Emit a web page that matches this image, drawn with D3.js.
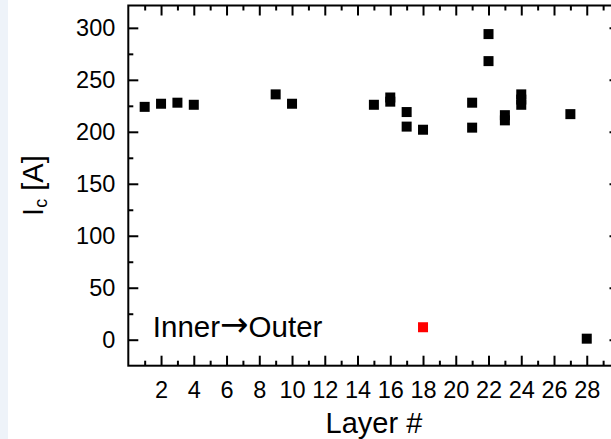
<!DOCTYPE html>
<html>
<head>
<meta charset="utf-8">
<script src="https://cdn.jsdelivr.net/npm/d3@7"></script>
<style>
  body { margin: 0; background: #fff; }
  svg { display: block; font-family: Arial, "Liberation Sans", sans-serif; }
</style>
</head>
<body>
<div id="chart"></div>
<script>
// layer number and critical current
var layers = [1, 2, 3, 4, 9, 10, 15, 16, 16, 17, 17, 18, 21, 21, 22, 22, 23, 23, 24, 24, 24, 27, 28];
var ic = [224, 227, 228, 226, 236, 227, 226, 233, 229, 219, 205, 202, 228, 204, 294, 268, 216, 211, 236, 231, 226, 217, 1];
// the highlighted point
var redLayer = [18];
var redIc = [12];

var xTicks = [2, 4, 6, 8, 10, 12, 14, 16, 18, 20, 22, 24, 26, 28];
var yTicks = [0, 50, 100, 150, 200, 250, 300];

var w = 611, h = 439;
var mLeft = 128.3, mRight = 619.5, mTop = 5.5, mBottom = 365.7;

var svg = d3.select("#chart").append("svg")
    .attr("width", w)
    .attr("height", h);

// faint strip along the left edge
svg.append("rect")
    .attr("x", 0).attr("y", 0)
    .attr("width", 8).attr("height", h)
    .attr("fill", "#eef3f9");

var x = d3.scaleLinear().domain([0, 30]).range([mLeft, mRight]);
var y = d3.scaleLinear().domain([-25, 321.5]).range([mBottom, mTop]);

var xMinor = d3.range(1, 30, 2);
var yMinor = d3.range(25, 321, 50);

function styleAxis(g) {
    g.select(".domain").remove();
    g.selectAll(".tick line").attr("stroke", "#000").attr("stroke-width", 2);
    g.selectAll(".tick text").attr("fill", "#000").attr("font-size", "23.5px")
        .attr("font-family", "Arial, 'Liberation Sans', sans-serif");
}

// bottom
svg.append("g").attr("transform", "translate(0," + mBottom + ")")
    .call(d3.axisBottom(x).tickValues(xTicks).tickSize(-10).tickPadding(16).tickFormat(d3.format("d")))
    .call(styleAxis)
    .selectAll(".tick text").attr("dy", "0.71em");
svg.append("g").attr("transform", "translate(0," + mBottom + ")")
    .call(d3.axisBottom(x).tickValues(xMinor).tickSize(-5).tickFormat(""))
    .call(styleAxis);

// top
svg.append("g").attr("transform", "translate(0," + mTop + ")")
    .call(d3.axisTop(x).tickValues(xTicks).tickSize(-10).tickFormat(""))
    .call(styleAxis);
svg.append("g").attr("transform", "translate(0," + mTop + ")")
    .call(d3.axisTop(x).tickValues(xMinor).tickSize(-5).tickFormat(""))
    .call(styleAxis);

// left
svg.append("g").attr("transform", "translate(" + mLeft + ",0)")
    .call(d3.axisLeft(y).tickValues(yTicks).tickSize(-10).tickPadding(13))
    .call(styleAxis);
svg.append("g").attr("transform", "translate(" + mLeft + ",0)")
    .call(d3.axisLeft(y).tickValues(yMinor).tickSize(-5).tickFormat(""))
    .call(styleAxis);

// right
svg.append("g").attr("transform", "translate(" + mRight + ",0)")
    .call(d3.axisRight(y).tickValues(yTicks).tickSize(-10).tickFormat(""))
    .call(styleAxis);
svg.append("g").attr("transform", "translate(" + mRight + ",0)")
    .call(d3.axisRight(y).tickValues(yMinor).tickSize(-5).tickFormat(""))
    .call(styleAxis);

// frame
svg.append("rect")
    .attr("x", mLeft).attr("y", mTop)
    .attr("width", mRight - mLeft).attr("height", mBottom - mTop)
    .attr("fill", "none").attr("stroke", "#000").attr("stroke-width", 2);

var s = 10;
svg.append("g").selectAll("rect")
    .data(layers)
    .enter()
    .append("rect")
    .attr("x", (d, i) => x(d) - s / 2)
    .attr("y", (d, i) => y(ic[i]) - s / 2)
    .attr("width", s).attr("height", s)
    .attr("fill", "#000");

svg.append("g").selectAll("rect")
    .data(redLayer)
    .enter()
    .append("rect")
    .attr("x", (d, i) => x(d) - s / 2)
    .attr("y", (d, i) => y(redIc[i]) - s / 2)
    .attr("width", s).attr("height", s)
    .attr("fill", "#ff0000");

// annotation
var note = svg.append("text")
    .attr("x", x(1.5)).attr("y", y(2.5))
    .attr("font-size", "29.5px")
    .attr("fill", "#000");
note.append("tspan").text("Inner");
note.append("tspan").attr("font-family", "'DejaVu Sans', sans-serif").attr("font-size", "34px").attr("dy", -1).text("\u2192");
note.append("tspan").attr("dy", 1).text("Outer");

// axis titles
svg.append("text")
    .attr("x", (mLeft + mRight) / 2).attr("y", 433)
    .attr("text-anchor", "middle")
    .attr("font-size", "29px")
    .attr("fill", "#000")
    .text("Layer #");

var yl = svg.append("text")
    .attr("transform", "translate(43," + ((mTop + mBottom) / 2) + ") rotate(-90)")
    .attr("text-anchor", "middle")
    .attr("font-size", "29px")
    .attr("fill", "#000");
yl.append("tspan").text("I");
yl.append("tspan").attr("font-size", "18px").attr("dy", 4).text("c");
yl.append("tspan").attr("dy", -4).text(" [A]");
</script>
</body>
</html>
